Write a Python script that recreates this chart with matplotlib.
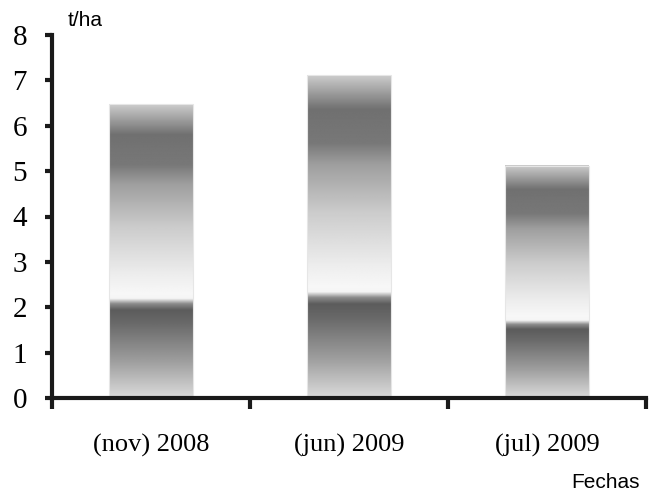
import numpy as np
import matplotlib.pyplot as plt
from matplotlib.patches import Rectangle

categories = ['(nov) 2008', '(jun) 2009', '(jul) 2009']
lower_part = [2.3, 2.45, 1.8]
bar_total = [6.48, 7.12, 5.12]

# grey shading along each segment (0 = bottom, 1 = top)
low_stops = [0.0, 0.35, 0.7, 0.84, 0.9, 0.95, 1.0]
low_grey = [0.86, 0.62, 0.42, 0.36, 0.55, 0.96, 0.97]
up_stops = [0.0, 0.1, 0.35, 0.58, 0.68, 0.84, 0.92, 1.0]
up_grey = [0.97, 0.93, 0.8, 0.62, 0.47, 0.44, 0.62, 0.8]

serif = ['Liberation Serif', 'DejaVu Serif']
sans = ['Liberation Sans', 'DejaVu Sans']

fig = plt.figure(figsize=(6.54, 4.96), dpi=100)
ax = fig.add_axes([52/654, 98/496, 594/654, 363/496])

w = 0.42
t = np.linspace(0, 1, 300)
for i, (lo, tot) in enumerate(zip(lower_part, bar_total)):
    for y0, y1, st, gr in [(0, lo, low_stops, low_grey), (lo, tot, up_stops, up_grey)]:
        col = np.interp(t, st, gr)[:, None]
        ax.imshow(col, cmap='gray', vmin=0, vmax=1, origin='lower', aspect='auto',
                  extent=[i - w/2, i + w/2, y0, y1], interpolation='bilinear')
    ax.add_patch(Rectangle((i - w/2, 0), w, tot, fill=False, ec='#e6e6e6', lw=0.8))

ax.set_xlim(-0.5, 2.5)
ax.set_ylim(0, 8)

for s in ['top', 'right']:
    ax.spines[s].set_visible(False)
for s in ['left', 'bottom']:
    ax.spines[s].set_linewidth(3)
    ax.spines[s].set_color('#1a1a1a')

ax.set_yticks(range(9))
ax.tick_params(axis='y', direction='out', length=5, width=3, pad=13, labelsize=21,
               color='#1a1a1a')
for lab in ax.get_yticklabels():
    lab.set_family(serif)

ax.set_xticks([-0.5, 0.5, 1.5, 2.5])
ax.set_xticklabels([])
ax.tick_params(axis='x', which='major', direction='out', length=8, width=3, color='#1a1a1a')
ax.set_xticks([0, 1, 2], minor=True)
ax.set_xticklabels(categories, minor=True)
ax.tick_params(axis='x', which='minor', length=0, pad=26, labelsize=19)
for lab in ax.get_xticklabels(minor=True):
    lab.set_family(serif)

fig.text(68/654, 1 - 20/496, 't/ha', fontsize=15, family=sans, va='center', ha='left')
fig.text(640/654, 1 - 483/496, 'Fechas', fontsize=15, family=sans, va='center', ha='right')

fig.savefig('out.png', dpi=100)
